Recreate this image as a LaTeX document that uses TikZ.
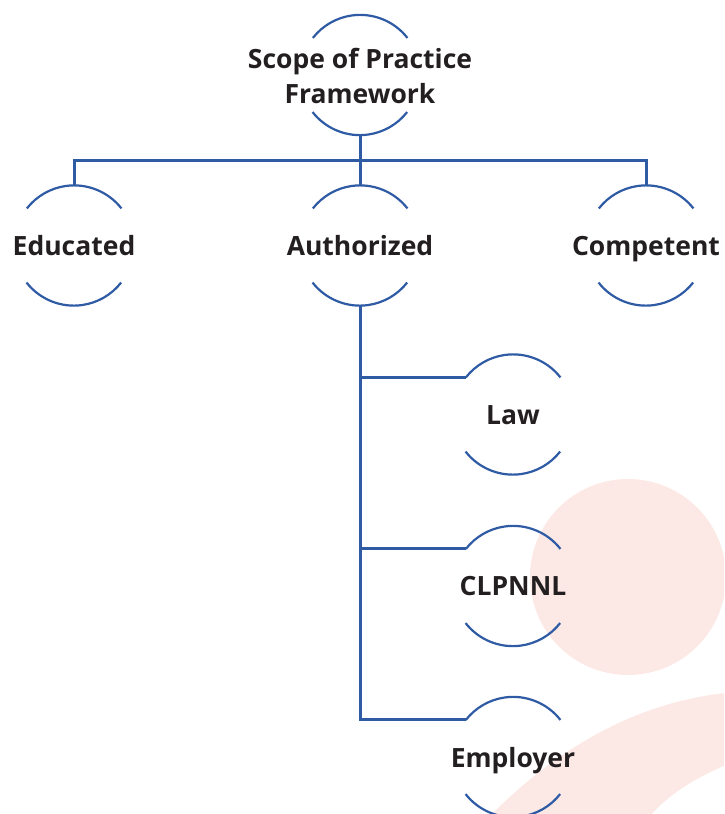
\documentclass[tikz,border=0pt]{standalone}
\usepackage{fontspec}
\setmainfont{Open Sans}
\definecolor{cblue}{HTML}{2F5BA5}
\definecolor{cpink}{HTML}{FCE8E5}
\definecolor{ctext}{HTML}{231F20}
\tikzset{
  ring/.style={circle, minimum size=120pt, inner sep=0pt, draw=none},
  lbl/.style={font=\bfseries\fontsize{26.5}{35}\selectfont, text=ctext, align=center, inner sep=0pt},
  arcline/.style={draw=cblue, line width=2.2pt},
  conn/.style={draw=cblue, line width=3pt},
}
\begin{document}
\begin{tikzpicture}[x=1pt,y=1pt]
\useasboundingbox (0,0) rectangle (724,-814);
\begin{scope}
\clip (0,0) rectangle (724,-814);
\fill[cpink] (628,-577) circle (98);
\fill[cpink] (490,-816) .. controls (560,-745) and (640,-702) .. (726,-693) -- (726,-765) .. controls (695,-778) and (668,-795) .. (650,-816) -- cycle;
\end{scope}
\node[ring] (scope) at (360,-75) {};
\node[ring] (edu) at (74,-245.5) {};
\node[ring] (auth) at (360,-245.5) {};
\node[ring] (comp) at (646,-245.5) {};
\node[ring] (law) at (513,-414.5) {};
\node[ring] (clp) at (513,-586) {};
\node[ring] (emp) at (513,-757) {};
\foreach \n in {scope,edu,auth,comp,law,clp,emp}{
  \draw[arcline] (\n.38) arc (38:142:60);
  \draw[arcline] (\n.218) arc (218:322:60);
}
\coordinate (bar) at (360,-160);
\draw[conn] (scope.south) -- (auth.north);
\draw[conn] (edu.north) -- (edu.north |- bar) -- (comp.north |- bar) -- (comp.north);
\draw[conn] (auth.south) -- (auth.south |- emp.142) -- (emp.142);
\draw[conn] (auth.south |- law.142) -- (law.142);
\draw[conn] (auth.south |- clp.142) -- (clp.142);
\node[lbl] (tscope) at ([yshift=-1pt]scope.center) {Scope of Practice\\Framework};
\node[lbl, anchor=base] (tedu) at ([yshift=-10pt]edu.center) {Educated};
\node[lbl, anchor=base] (tauth) at ([yshift=-10pt]auth.center) {Authorized};
\node[lbl, anchor=base] (tcomp) at ([yshift=-10pt]comp.center) {Competent};
\node[lbl, anchor=base] (tlaw) at ([yshift=-9.5pt]law.center) {Law};
\node[lbl, anchor=base] (tclp) at ([yshift=-9.5pt]clp.center) {CLPNNL};
\node[lbl, anchor=base] (temp) at ([yshift=-10pt]emp.center) {Employer};
\end{tikzpicture}
\end{document}
